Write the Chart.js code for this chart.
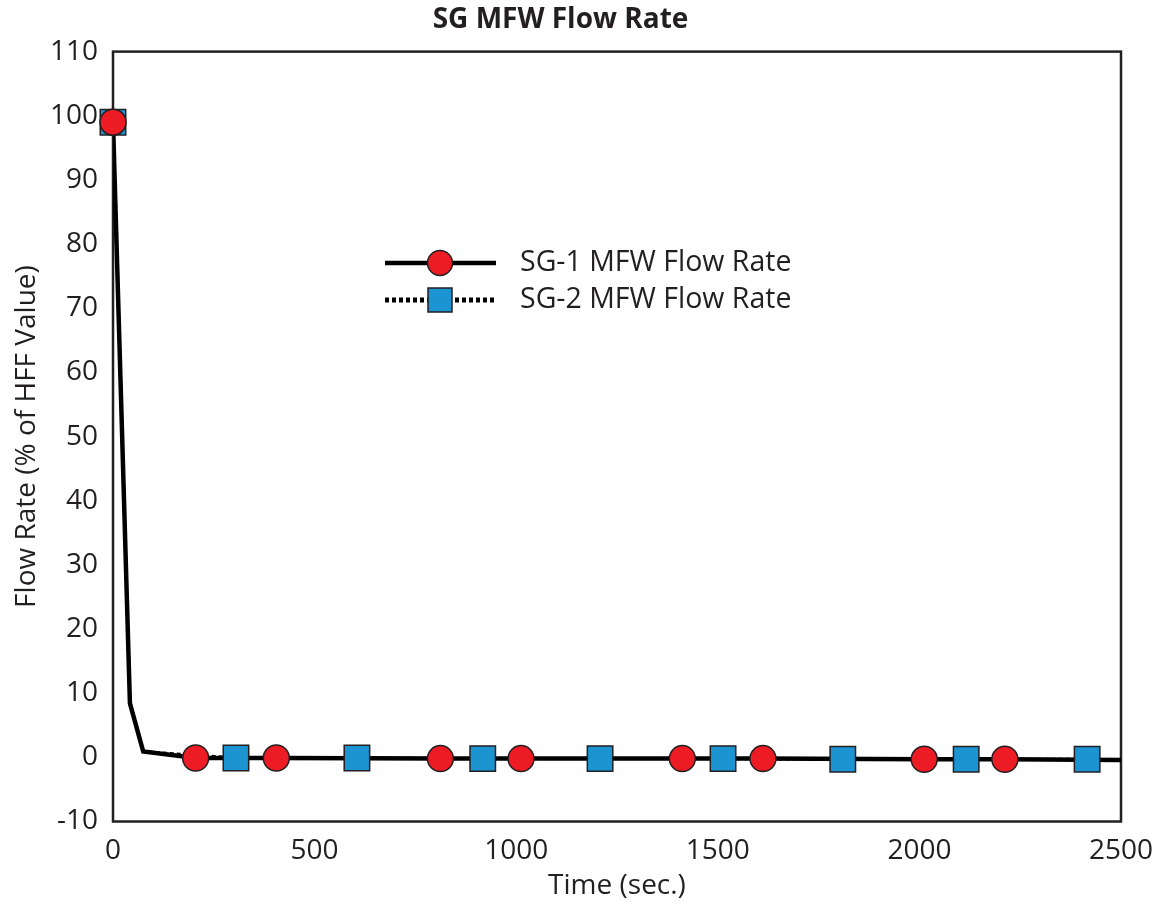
<!DOCTYPE html>
<html>
<head>
<meta charset="utf-8">
<title>SG MFW Flow Rate</title>
<script src="https://cdn.jsdelivr.net/npm/chart.js@4.4.1/dist/chart.umd.min.js"></script>
<style>
    html, body { margin: 0; padding: 0; background: #ffffff; }
    #wrap { width: 1162px; height: 905px; }
</style>
</head>
<body>
<div id="wrap"><canvas id="flowChart"></canvas></div>
<script>
// time (sec.) and flow rate (% of HFF value)
var sg1Time = [0, 42, 75, 205, 405, 812, 1012, 1412, 1612, 2012, 2212, 2500];
var sg1Flow = [99, 8.4, 0.9, -0.1, -0.1, -0.2, -0.2, -0.2, -0.2, -0.3, -0.3, -0.4];
var sg2Time = [0, 42, 75, 305, 605, 917, 1208, 1513, 1810, 2116, 2416, 2500];
var sg2Flow = [99, 8.4, 0.9, -0.1, -0.1, -0.2, -0.2, -0.2, -0.3, -0.3, -0.3, -0.4];

var xTicks = [0, 500, 1000, 1500, 2000, 2500];
var yTicks = [-10, 0, 10, 20, 30, 40, 50, 60, 70, 80, 90, 100, 110];

var seriesNames = ['SG-1 MFW Flow Rate', 'SG-2 MFW Flow Rate'];

var RED = '#ed1c24';
var BLUE = '#1c94d2';
var EDGE = '#231f20';
var FONT = "'Open Sans', 'DejaVu Sans', sans-serif";

function toPoints(t, v) {
    return t.map(function (x, i) { return { x: x, y: v[i] }; });
}

// the transient points (1, 2) and the last point carry no marker
function markerRadius(r, n) {
    return function (c) {
        var i = c.dataIndex;
        return (i === 0 || (i > 2 && i < n - 1)) ? r : 0;
    };
}

// plot frame, drawn under the data
var framePlugin = {
    id: 'frame',
    beforeDatasetsDraw: function (chart) {
        var a = chart.chartArea, ctx = chart.ctx;
        ctx.save();
        ctx.strokeStyle = '#231f20';
        ctx.lineWidth = 2.5;
        ctx.strokeRect(a.left, a.top, a.right - a.left, a.bottom - a.top);
        ctx.restore();
    }
};

// legend box in the middle of the plot
var legendPlugin = {
    id: 'innerLegend',
    afterDraw: function (chart) {
        var ctx = chart.ctx;
        var x0 = 385, x1 = 496, xm = 440, tx = 520;
        var rows = [263, 300];
        ctx.save();
        ctx.lineWidth = 4.5;
        ctx.strokeStyle = '#000';
        // SG-1 solid + circle
        ctx.beginPath();
        ctx.moveTo(x0, rows[0]); ctx.lineTo(x1, rows[0]);
        ctx.stroke();
        ctx.beginPath();
        ctx.arc(xm, rows[0], 12.5, 0, Math.PI * 2);
        ctx.fillStyle = RED; ctx.fill();
        ctx.lineWidth = 1.5; ctx.strokeStyle = EDGE; ctx.stroke();
        // SG-2 dotted + square
        ctx.lineWidth = 5;
        ctx.strokeStyle = '#000';
        ctx.setLineDash([4, 3]);
        ctx.beginPath();
        ctx.moveTo(x0, rows[1]); ctx.lineTo(x1, rows[1]);
        ctx.stroke();
        ctx.setLineDash([]);
        ctx.fillStyle = BLUE;
        ctx.fillRect(xm - 12, rows[1] - 12, 24, 24);
        ctx.lineWidth = 1.5; ctx.strokeStyle = EDGE;
        ctx.strokeRect(xm - 12, rows[1] - 12, 24, 24);
        // labels
        ctx.fillStyle = '#231f20';
        ctx.font = '28.5px ' + FONT;
        ctx.textAlign = 'left';
        ctx.textBaseline = 'middle';
        ctx.fillText(seriesNames[0], tx, rows[0]);
        ctx.fillText(seriesNames[1], tx, rows[1]);
        ctx.restore();
    }
};

var ctx = document.getElementById('flowChart').getContext('2d');
var flowChart = new Chart(ctx, {
    type: 'line',
    data: {
        datasets: [
            {
                // SG-2 line, bottom layer
                label: seriesNames[1],
                data: toPoints(sg2Time, sg2Flow),
                borderColor: '#000',
                borderWidth: 3,
                borderDash: [4, 3],
                pointRadius: 0,
                tension: 0,
                order: 4
            },
            {
                label: seriesNames[0],
                data: toPoints(sg1Time, sg1Flow),
                borderColor: '#000',
                borderWidth: 4.5,
                pointRadius: 0,
                tension: 0,
                order: 3
            },
            {
                label: seriesNames[1] + ' markers',
                data: toPoints(sg2Time, sg2Flow),
                showLine: false,
                pointStyle: 'rect',
                pointRadius: markerRadius(18, sg2Time.length),
                pointBackgroundColor: BLUE,
                pointBorderColor: EDGE,
                pointBorderWidth: 1.5,
                clip: false,
                order: 2
            },
            {
                label: seriesNames[0] + ' markers',
                data: toPoints(sg1Time, sg1Flow),
                showLine: false,
                pointStyle: 'circle',
                pointRadius: markerRadius(13, sg1Time.length),
                pointBackgroundColor: RED,
                pointBorderColor: EDGE,
                pointBorderWidth: 1.5,
                clip: false,
                order: 1
            }
        ]
    },
    options: {
        responsive: true,
        maintainAspectRatio: false,
        animation: false,
        events: [],
        layout: { padding: { left: 0, right: 41, top: 0, bottom: 0 } },
        scales: {
            x: {
                type: 'linear',
                min: 0,
                max: 2500,
                afterBuildTicks: function (s) { s.ticks = xTicks.map(function (v) { return { value: v }; }); },
                afterFit: function (s) {
                    s.height = 83.5;
                    s.paddingLeft = 0;
                    s.paddingRight = 0;
                },
                grid: { display: false, drawTicks: false },
                border: { display: false },
                ticks: {
                    color: '#231f20',
                    padding: 13,
                    maxRotation: 0,
                    callback: function (v) { return String(v); },
                    font: { family: FONT, size: 28 }
                },
                title: {
                    display: true,
                    text: 'Time (sec.)',
                    color: '#231f20',
                    padding: { top: 0, bottom: 2 },
                    font: { family: FONT, size: 28 }
                }
            },
            y: {
                type: 'linear',
                min: -10,
                max: 110,
                afterBuildTicks: function (s) { s.ticks = yTicks.map(function (v) { return { value: v }; }); },
                afterFit: function (s) { s.width = 113; },
                grid: { display: false, drawTicks: false },
                border: { display: false },
                ticks: {
                    color: '#231f20',
                    padding: 15,
                    callback: function (v) { return String(v); },
                    font: { family: FONT, size: 28 }
                },
                title: {
                    display: true,
                    text: 'Flow Rate (% of HFF Value)',
                    color: '#231f20',
                    padding: { top: 10, bottom: 0 },
                    font: { family: FONT, size: 28 }
                }
            }
        },
        plugins: {
            legend: { display: false },
            tooltip: { enabled: false },
            title: {
                display: true,
                text: 'SG MFW Flow Rate',
                color: '#231f20',
                padding: { top: 3, bottom: 15 },
                font: { family: FONT, size: 28, weight: 'bold' }
            }
        }
    },
    plugins: [framePlugin, legendPlugin]
});
</script>
</body>
</html>
